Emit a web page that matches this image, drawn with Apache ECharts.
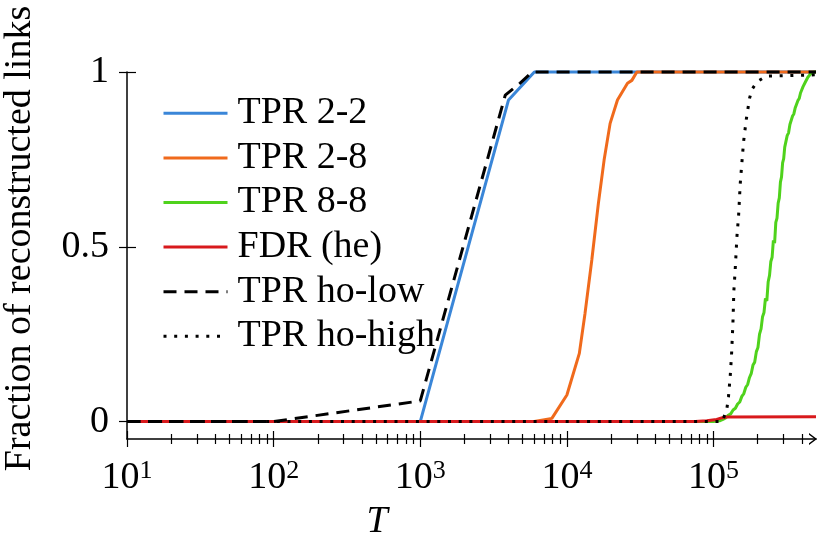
<!DOCTYPE html>
<html>
<head>
<meta charset="utf-8">
<script src="https://cdn.jsdelivr.net/npm/echarts@6/dist/echarts.min.js"></script>
<style>
html,body{margin:0;padding:0;background:#fff;}
#chart{width:820px;height:552px;}
</style>
</head>
<body>
<div id="chart"></div>
<script>
// ---- data ----
const seriesNames = ['TPR 2-2', 'TPR 2-8', 'TPR 8-8', 'FDR (he)', 'TPR ho-low', 'TPR ho-high'];

const tpr22T = [10, 1000, 4000, 6000, 500000];
const tpr22V = [0, 0, 0.92, 1, 1];

const tpr28T = [10, 6000, 7900, 10000, 12160, 13300, 14790, 16400, 17940, 19720, 22130, 25900, 27750, 30000, 500000];
const tpr28V = [0, 0, 0.009, 0.076, 0.195, 0.31, 0.462, 0.624, 0.748, 0.853, 0.92, 0.968, 0.976, 1, 1];

const tpr88T = [10, 100000, 110000, 116000, 121000, 126000, 131000, 136000, 141000, 146000, 151000, 156000, 161000,
  166000, 171000, 176000, 181000, 186000, 191000, 196000, 201000, 206000, 211000, 216000, 221000, 226000, 231000,
  236000, 241000, 246000, 251000, 256000, 261000, 266000, 271000, 276000, 281000, 286000, 291000, 296000, 301000,
  306000, 311000, 318000, 325000, 332000, 339000, 346000, 353000, 360000, 368000, 376000, 384000, 392000, 400000,
  408000, 416000, 424000, 432000, 440000, 448000, 456000, 464000, 472000, 480000, 488000, 496000, 500000];
const tpr88V = [0, 0, 0.002, 0.006, 0.01, 0.018, 0.022, 0.033, 0.038, 0.05, 0.056, 0.072, 0.08,
  0.098, 0.106, 0.126, 0.138, 0.162, 0.17, 0.2, 0.212, 0.25, 0.265, 0.3, 0.312, 0.352, 0.345,
  0.4, 0.418, 0.458, 0.47, 0.518, 0.51, 0.57, 0.582, 0.625, 0.64, 0.685, 0.7, 0.74, 0.752,
  0.785, 0.79, 0.818, 0.826, 0.85, 0.855, 0.874, 0.88, 0.896, 0.9, 0.918, 0.924, 0.94, 0.945,
  0.958, 0.96, 0.972, 0.975, 0.985, 0.984, 0.993, 0.99, 0.998, 0.994, 1.0, 0.997, 1.0];

const fdrT = [10, 75000, 90000, 105000, 115000, 122000, 500000];
const fdrV = [0, 0, 0.002, 0.006, 0.011, 0.013, 0.014];

const hoLowT = [10, 100, 1000, 3800, 4800, 5800, 500000];
const hoLowV = [0, 0, 0.059, 0.934, 0.968, 1, 1];

const hoHighT = [10, 115000, 117000, 123500, 126500, 130000, 132700, 135600, 137700, 140600, 144500, 148300, 152100,
  156300, 160300, 167100, 176200, 182800, 197700, 229000, 500000];
const hoHighV = [0, 0, 0.009, 0.038, 0.071, 0.13, 0.19, 0.28, 0.375, 0.435, 0.53, 0.59, 0.68,
  0.743, 0.80, 0.863, 0.925, 0.95, 0.972, 0.988, 0.992];

const xMajorTicks = [10, 100, 1000, 10000, 100000];
const xMinorTicks = [20, 30, 40, 50, 60, 70, 80, 90, 200, 300, 400, 500, 600, 700, 800, 900,
  2000, 3000, 4000, 5000, 6000, 7000, 8000, 9000, 20000, 30000, 40000, 50000, 60000, 70000, 80000, 90000,
  200000, 300000, 400000];
const yTicks = [0, 0.5, 1];

// ---- chart ----
const FONT = 'Liberation Serif';
function zip(a, b) { return a.map((v, i) => [v, b[i]]); }

const colors = ['#3a86d8', '#f06a1c', '#4fd21c', '#d8191c', '#000000', '#000000'];
const dataSets = [zip(tpr22T, tpr22V), zip(tpr28T, tpr28V), zip(tpr88T, tpr88V), zip(fdrT, fdrV), zip(hoLowT, hoLowV), zip(hoHighT, hoHighV)];
const dashes = ['solid', 'solid', 'solid', 'solid', [13, 8], [3, 7.7]];

const xBase = { type: 'log', logBase: 10, min: 10, max: 500000, position: 'bottom', splitLine: { show: false } };
const yBase = { type: 'value', min: -0.05, max: 1, position: 'left', splitLine: { show: false } };

const option = {
  animation: false,
  backgroundColor: '#fff',
  grid: { left: 127, right: 4, top: 72, bottom: 113, containLabel: false, outerBoundsMode: 'none' },
  legend: {
    orient: 'vertical', left: 162, top: 91, padding: 0, itemGap: 0,
    itemWidth: 64, itemHeight: 14,
    data: seriesNames,
    lineStyle: { width: 3 },
    itemStyle: { opacity: 0 },
    textStyle: { fontFamily: FONT, fontSize: 38, color: '#000', lineHeight: 44.6, padding: [0, 0, 0, 5] },
    selectedMode: false
  },
  xAxis: [
    Object.assign({}, xBase, {
      axisLine: { show: true, onZero: false, lineStyle: { color: '#000', width: 1.5 },
        symbol: ['none', 'path://M0,8 L6,0 L12,8 L10.3,8 L6,2.3 L1.7,8 Z'], symbolSize: [12, 8], symbolOffset: [0, -3] },
      axisTick: { show: false },
      axisLabel: {
        customValues: xMajorTicks, margin: 19, color: '#000',
        formatter: function (v) { return '{b|10}{s|' + Math.round(Math.log10(v)) + '}'; },
        rich: {
          b: { fontFamily: FONT, fontSize: 38, lineHeight: 40, color: '#000' },
          s: { fontFamily: FONT, fontSize: 26, lineHeight: 21, verticalAlign: 'top', color: '#000' }
        }
      },
      name: 'T', nameLocation: 'middle', nameGap: 64,
      nameTextStyle: { fontFamily: FONT, fontStyle: 'italic', fontSize: 38, color: '#000', padding: [0, 189, 0, 0] }
    }),
    Object.assign({}, xBase, {
      offset: -8,
      axisLine: { show: false, onZero: false },
      axisLabel: { show: false },
      axisTick: { show: true, customValues: xMajorTicks, length: 16, lineStyle: { color: '#000', width: 1.2 } }
    }),
    Object.assign({}, xBase, {
      offset: -5,
      axisLine: { show: false, onZero: false },
      axisLabel: { show: false },
      axisTick: { show: true, customValues: xMinorTicks, length: 10, lineStyle: { color: '#000', width: 1.2 } }
    })
  ],
  yAxis: [
    Object.assign({}, yBase, {
      axisLine: { show: true, onZero: false, lineStyle: { color: '#000', width: 1.5 } },
      axisTick: { show: false },
      axisLabel: {
        customValues: yTicks, margin: 18, color: '#000', fontFamily: FONT, fontSize: 38,
        formatter: function (v) { return String(v); }
      },
      name: 'Fraction of reconstructed links', nameLocation: 'middle', nameGap: 88,
      nameTextStyle: { fontFamily: FONT, fontSize: 38, color: '#000', padding: [0, 0, 0, 34] }
    }),
    Object.assign({}, yBase, {
      offset: -9,
      axisLine: { show: false, onZero: false },
      axisLabel: { show: false },
      axisTick: { show: true, customValues: yTicks, length: 17, lineStyle: { color: '#000', width: 1.2 } }
    })
  ],
  series: seriesNames.map((name, i) => ({
    name: name, type: 'line', xAxisIndex: 0, yAxisIndex: 0,
    data: dataSets[i], symbol: 'none', showSymbol: false, clip: false,
    lineStyle: { color: colors[i], width: 3, type: dashes[i] },
    itemStyle: { color: colors[i] },
    z: 2 + i
  }))
};

const chart = echarts.init(document.getElementById('chart'), null, { renderer: 'canvas' });
chart.setOption(option);
</script>
</body>
</html>
